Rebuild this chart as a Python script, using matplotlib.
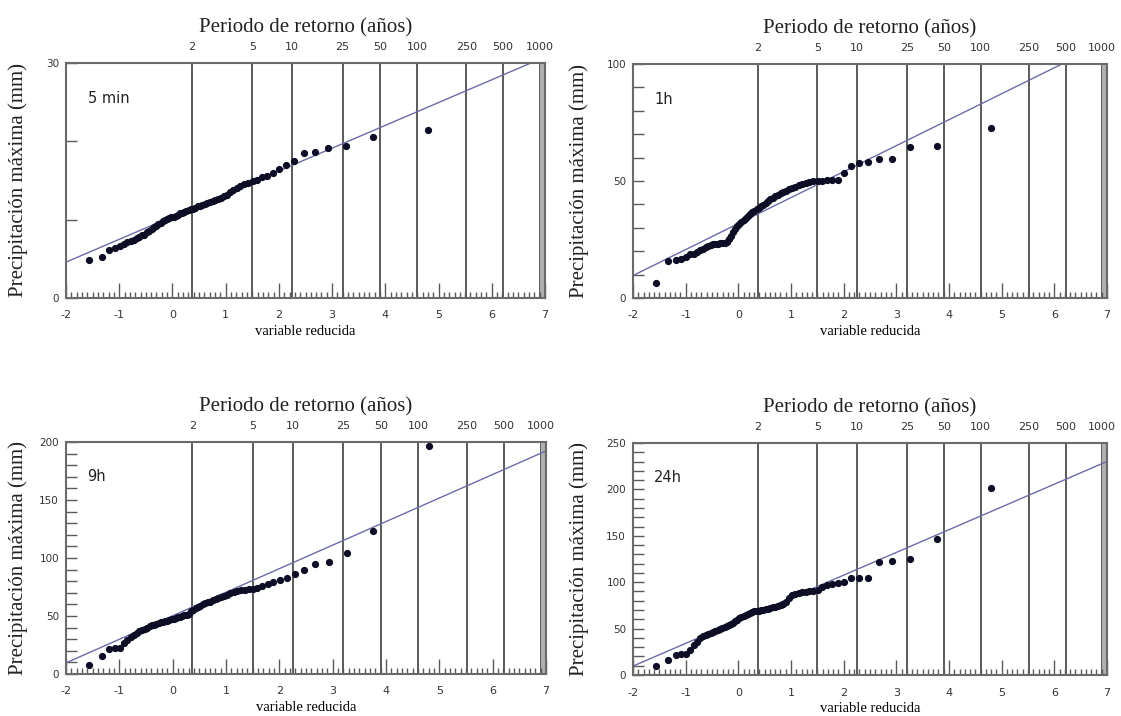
import matplotlib
matplotlib.use("Agg")
import matplotlib.pyplot as plt
import numpy as np

plt.rcParams['font.family'] = ['Liberation Serif', 'DejaVu Serif']
plt.rcParams['axes.unicode_minus'] = False

# duraciones y series de máximos anuales (mm), ordenadas de menor a mayor
durations = ['5 min', '1h', '9h', '24h']

p_5min = [4.9, 5.2, 6.1, 6.4, 6.6, 6.9, 7.1, 7.3, 7.4, 7.6, 7.8, 8.0, 8.1, 8.4,
          8.6, 8.8, 9.0, 9.2, 9.4, 9.6, 9.8, 9.9, 10.1, 10.2, 10.3, 10.4, 10.5,
          10.6, 10.8, 10.9, 11.0, 11.1, 11.2, 11.3, 11.4, 11.5, 11.7, 11.8, 11.9,
          12.0, 12.1, 12.3, 12.4, 12.5, 12.7, 12.8, 13.0, 13.2, 13.5, 13.8, 14.0,
          14.3, 14.5, 14.7, 14.9, 15.1, 15.4, 15.6, 15.9, 16.5, 17.0, 17.5, 18.5,
          18.7, 19.2, 19.4, 20.6, 21.5]

p_1h = [6.5, 16.0, 16.3, 16.8, 17.5, 18.6, 19.0, 19.5, 20.3, 21.0, 21.8, 22.3,
        22.6, 22.9, 23.1, 23.2, 23.3, 23.4, 23.6, 24.0, 25.0, 26.5, 28.3, 29.5,
        30.8, 31.8, 32.6, 33.2, 34.2, 35.2, 36.0, 36.8, 37.3, 37.9, 38.5, 39.2,
        39.8, 40.5, 41.3, 42.2, 42.8, 43.4, 44.1, 44.7, 45.3, 45.9, 46.4, 46.9,
        47.5, 48.1, 48.7, 49.2, 49.6, 49.9, 50.0, 50.2, 50.3, 50.4, 50.6, 53.5,
        56.5, 57.8, 58.3, 59.4, 59.5, 64.7, 65.1, 72.6]

p_9h = [8.0, 15.5, 21.5, 22.0, 22.5, 26.5, 29.5, 31.5, 33.5, 35.5, 37.0, 38.0,
        39.0, 40.0, 41.0, 42.0, 42.5, 43.0, 44.0, 44.5, 45.0, 45.5, 46.0, 46.5,
        47.0, 47.5, 48.5, 49.0, 49.5, 50.0, 50.5, 51.0, 52.0, 54.0, 55.5, 57.0,
        58.0, 59.0, 60.0, 61.0, 62.0, 62.5, 63.5, 64.5, 65.5, 66.5, 67.5, 68.5,
        69.5, 70.5, 71.5, 72.0, 72.5, 73.0, 73.5, 74.5, 76.0, 77.5, 79.0, 81.0,
        83.0, 86.0, 89.5, 95.0, 96.5, 104.5, 123.0, 196.5]

p_24h = [9.7, 16.5, 21.5, 22.5, 23.0, 27.0, 32.0, 36.0, 40.0, 42.0, 43.0, 44.0,
         45.0, 46.0, 47.5, 48.5, 50.0, 51.0, 52.0, 53.0, 54.0, 55.0, 56.5, 58.0,
         59.5, 61.0, 62.5, 63.5, 64.5, 65.5, 66.5, 67.5, 68.5, 69.0, 69.5, 70.0,
         70.5, 71.0, 71.5, 72.0, 73.0, 73.5, 74.0, 75.0, 76.0, 79.0, 83.0, 86.0,
         87.0, 88.0, 89.0, 89.5, 90.0, 91.0, 92.0, 94.5, 97.0, 98.0, 99.0, 100.0,
         104.0, 104.0, 104.0, 121.5, 122.5, 125.0, 146.5, 201.0]

series = [p_5min, p_1h, p_9h, p_24h]

# ajuste de Gumbel: P = u + alpha * y
gumbel_u = [10.4, 31.8, 50.2, 58.6]
gumbel_alpha = [2.91, 11.1, 20.3, 24.5]

y_max = [30, 100, 200, 250]
y_labels = [[0, 30], [0, 50, 100], [0, 50, 100, 150, 200], [0, 50, 100, 150, 200, 250]]
y_major = [[0, 10, 20, 30], None, None, None]

return_periods = [2, 5, 10, 25, 50, 100, 250, 500, 1000]

# posiciones de las cajas en píxeles (izq, arriba, der, abajo)
boxes = [(66, 63, 545, 298), (633, 64, 1107, 298),
         (66, 442, 546, 674), (633, 443, 1107, 675)]
ylabel_x = [28, 589, 28, 589]

W, H = 1121, 716
fig = plt.figure(figsize=(W / 100, H / 100), dpi=100)

gray = '#5a5a5a'

for k in range(4):
    l, t, r, b = boxes[k]
    ax = fig.add_axes([l / W, 1 - b / H, (r - l) / W, (b - t) / H])

    vals = np.sort(np.array(series[k]))
    n = len(vals)
    rank = np.arange(1, n + 1)
    # variable reducida (Gringorten)
    yred = -np.log(-np.log((rank - 0.44) / (n + 0.12)))

    # líneas de período de retorno
    yT = [-np.log(-np.log(1 - 1 / T)) for T in return_periods]
    for v in yT:
        ax.axvline(v, color=gray, lw=1.4, zorder=1)
    ax.axvspan(yT[-1], 7, color='#b0b0b0', lw=0, zorder=1)

    ax.axline((0, gumbel_u[k]), slope=gumbel_alpha[k], color='#6b6ba8', lw=1.0, zorder=2)
    ax.plot(yred, vals, 'o', color='#0d0d25', ms=4.2, mec='#0d0d25', zorder=3)

    ax.set_xlim(-2, 7)
    ax.set_ylim(0, y_max[k])

    ax.set_xticks(np.arange(-2, 8))
    ax.set_xticks(np.arange(-2, 7.01, 0.1), minor=True)
    if y_major[k] is not None:
        ax.set_yticks(y_major[k])
        ax.set_yticklabels(['0', '', '', '30'])
    else:
        ax.set_yticks(y_labels[k])
        ax.set_yticks(np.arange(0, y_max[k] + 1, 10), minor=True)

    ax.tick_params(axis='x', which='major', direction='in', length=11, width=1, color=gray,
                   labelsize=8, pad=9)
    ax.tick_params(axis='x', which='minor', direction='in', length=4, width=1, color=gray)
    ax.tick_params(axis='y', which='both', direction='in', length=8, width=1, color=gray,
                   labelsize=7.5, pad=5)
    for lab in ax.get_xticklabels() + ax.get_yticklabels():
        lab.set_family('DejaVu Sans')
        lab.set_color('#333333')

    for s in ax.spines.values():
        s.set_color('#6a6a6a')
        s.set_linewidth(1.5)

    ax.set_xlabel('variable reducida', fontsize=10.5, labelpad=3)
    ax.set_ylabel('Precipitación máxima (mm)', fontsize=15, color='#222222')
    ax.yaxis.set_label_coords((ylabel_x[k] - l) / (r - l), 0.5)

    top = ax.twiny()
    top.set_xlim(-2, 7)
    top.set_xticks(yT)
    top.set_xticklabels([str(T) for T in return_periods], fontsize=8, family='DejaVu Sans',
                        color='#333333')
    top.tick_params(axis='x', length=0, pad=8)
    top.set_xlabel('Periodo de retorno (años)', fontsize=15, labelpad=7, color='#222222')
    for s in top.spines.values():
        s.set_visible(False)

    ax.text(0.045, 0.83, durations[k], transform=ax.transAxes, fontsize=10.5,
            family='DejaVu Sans', color='#222222')

fig.savefig('out.png', dpi=100)
